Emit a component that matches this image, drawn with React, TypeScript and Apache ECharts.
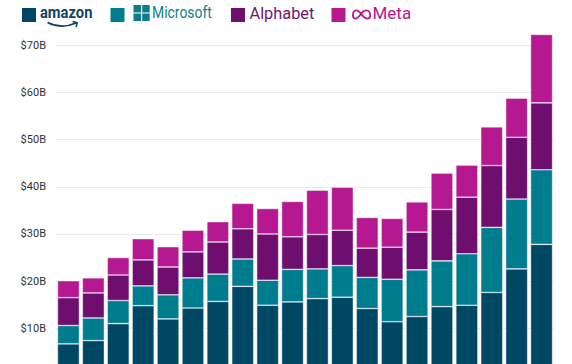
import React, { useEffect, useRef } from "react";
import * as echarts from "echarts";

const categories = [
  "Q1 2020", "Q2 2020", "Q3 2020", "Q4 2020",
  "Q1 2021", "Q2 2021", "Q3 2021", "Q4 2021",
  "Q1 2022", "Q2 2022", "Q3 2022", "Q4 2022",
  "Q1 2023", "Q2 2023", "Q3 2023", "Q4 2023",
  "Q1 2024", "Q2 2024", "Q3 2024", "Q4 2024",
];
const amazon = [6.7, 7.4, 11.0, 14.8, 12.0, 14.3, 15.7, 18.9, 14.9, 15.6, 16.3, 16.6, 14.2, 11.4, 12.5, 14.6, 14.9, 17.6, 22.6, 27.8];
const microsoft = [3.9, 4.8, 4.9, 4.2, 5.1, 6.4, 5.8, 5.8, 5.3, 6.9, 6.3, 6.7, 6.6, 9.0, 9.9, 9.7, 10.9, 13.8, 14.8, 15.8];
const alphabet = [5.9, 5.3, 5.4, 5.5, 5.9, 5.5, 6.8, 6.4, 9.8, 6.9, 7.3, 7.5, 6.2, 6.8, 8.0, 10.9, 12.0, 13.1, 13.1, 14.2];
const meta = [3.6, 3.2, 3.7, 4.5, 4.3, 4.6, 4.3, 5.4, 5.4, 7.5, 9.4, 9.1, 6.5, 6.1, 6.4, 7.7, 6.8, 8.2, 8.3, 14.5];
const seriesNames = ["amazon", "Microsoft", "Alphabet", "Meta"];
const yMax = 80;
const yInterval = 10;

const C_AMZ = "#004764";
const C_MS = "#007c8f";
const C_ALPH = "#6e0e6e";
const C_META = "#b51891";

echarts.graphic.registerShape(
  "amzSmile",
  echarts.graphic.extendPath("M0 0.5 Q14 7.5 28.5 1 M25 -0.6 L29.6 0.9 L28.6 5", {})
);
echarts.graphic.registerShape(
  "metaInf",
  echarts.graphic.extendPath(
    "M9.5 5 C7.5 1.8 5.6 0.9 4 0.9 C2 0.9 0.9 3 0.9 5.4 C0.9 7.8 2.1 9.1 3.8 9.1 C6 9.1 7.6 6.4 9.5 3.6 C11.5 0.9 13 0.9 14.5 0.9 C17 0.9 18.2 3.4 18.2 5.7 C18.2 8 17 9.1 15.3 9.1 C13 9.1 11.5 7 9.5 5",
    {}
  )
);

const OFF = 30;

export default function App() {
  const ref = useRef<HTMLDivElement>(null);
  useEffect(() => {
    if (!ref.current) return;
    const chart = echarts.init(ref.current, undefined, { renderer: "svg" });
    const colors = [C_AMZ, C_MS, C_ALPH, C_META];
    const datas = [amazon, microsoft, alphabet, meta];
    const option: any = {
      animation: false,
      grid: {
        left: 56,
        right: 18,
        top: 28.1,
        bottom: 34.5,
        containLabel: false,
        outerBoundsMode: "none",
      },
      xAxis: {
        type: "category",
        data: categories,
        axisLine: { show: false },
        axisTick: { show: false },
        axisLabel: { show: false },
      },
      yAxis: {
        type: "value",
        min: 0,
        max: yMax,
        interval: yInterval,
        axisLine: { show: false },
        axisTick: { show: false },
        splitLine: { lineStyle: { color: "#ebebeb", width: 1 } },
        axisLabel: {
          showMaxLabel: false,
          showMinLabel: false,
          margin: 10,
          color: "#333333",
          fontSize: 11,
          fontFamily: "Roboto",
          formatter: (v: number) => "$" + v + "B",
        },
      },
      series: datas.map((d, i) => ({
        name: seriesNames[i],
        type: "bar",
        stack: "capex",
        data: d,
        barWidth: 22,
        itemStyle: {
          color: colors[i],
          borderColor: "rgba(255,255,255,0.75)",
          borderWidth: 0.6,
        },
      })),
      graphic: [
        // amazon
        { type: "rect", shape: { x: 22, y: 8 + OFF, width: 14, height: 14 }, style: { fill: C_AMZ } },
        {
          type: "text",
          x: 40,
          y: 13 + OFF,
          scaleX: 0.92,
          style: { text: "amazon", fill: "#0e4561", font: "bold 16px Roboto", verticalAlign: "middle" },
        },
        {
          type: "amzSmile",
          x: 47.5,
          y: 22 + OFF,
          style: { fill: "none", stroke: "#0e4561", lineWidth: 1.6 },
        },
        // Microsoft
        { type: "rect", shape: { x: 110.5, y: 8 + OFF, width: 14, height: 14 }, style: { fill: C_MS } },
        { type: "rect", shape: { x: 133.5, y: 5 + OFF, width: 7.5, height: 7.5 }, style: { fill: "#0f7c8c" } },
        { type: "rect", shape: { x: 142.2, y: 5 + OFF, width: 7.5, height: 7.5 }, style: { fill: "#0f7c8c" } },
        { type: "rect", shape: { x: 133.5, y: 13.5 + OFF, width: 7.5, height: 7.5 }, style: { fill: "#0f7c8c" } },
        { type: "rect", shape: { x: 142.2, y: 13.5 + OFF, width: 7.5, height: 7.5 }, style: { fill: "#0f7c8c" } },
        {
          type: "text",
          x: 152,
          y: 13 + OFF,
          scaleX: 0.82,
          style: { text: "Microsoft", fill: "#127f8e", font: "17px Roboto", verticalAlign: "middle" },
        },
        // Alphabet
        { type: "rect", shape: { x: 231, y: 8 + OFF, width: 14, height: 14 }, style: { fill: C_ALPH } },
        {
          type: "text",
          x: 249.5,
          y: 13 + OFF,
          scaleX: 0.96,
          style: { text: "Alphabet", fill: "#6f176f", font: "17px Roboto", verticalAlign: "middle" },
        },
        // Meta
        { type: "rect", shape: { x: 331.5, y: 8 + OFF, width: 14, height: 14 }, style: { fill: C_META } },
        {
          type: "metaInf",
          x: 352,
          y: 9.5 + OFF,
          style: { fill: "none", stroke: "#b5178f", lineWidth: 1.8 },
        },
        {
          type: "text",
          x: 372.5,
          y: 13 + OFF,
          style: { text: "Meta", fill: "#b5178f", font: "17px Roboto", verticalAlign: "middle" },
        },
      ],
    };
    chart.setOption(option);
    return () => chart.dispose();
  }, []);

  return (
    <div style={{ position: "absolute", left: 0, top: 0, width: 572, height: 364, overflow: "hidden", background: "#fff" }}>
      <div ref={ref} style={{ position: "absolute", left: 0, top: -OFF, width: 572, height: 440 }} />
    </div>
  );
}
